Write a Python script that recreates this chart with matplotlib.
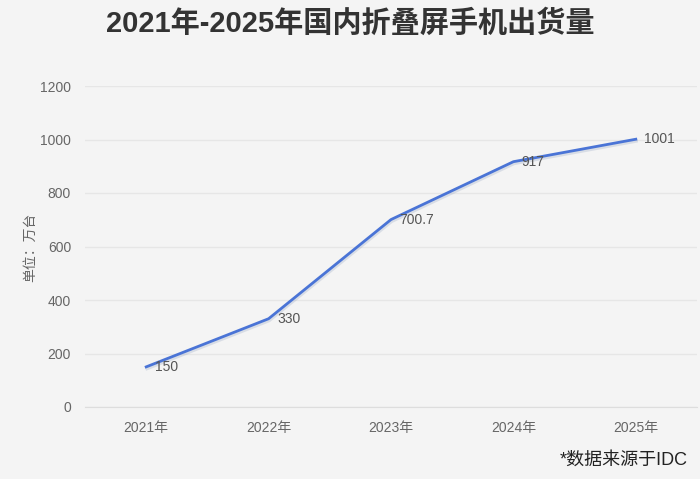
import matplotlib.pyplot as plt
import matplotlib.patheffects as pe

years = ['2021年', '2022年', '2023年', '2024年', '2025年']
shipments = [150, 330, 700.7, 917, 1001]
value_labels = ['150', '330', '700.7', '917', '1001']
yticks = [0, 200, 400, 600, 800, 1000, 1200]

plt.rcParams['font.family'] = ['Liberation Sans', 'Noto Sans CJK SC', 'DejaVu Sans']

bg = '#f4f4f4'
fig = plt.figure(figsize=(7, 4.79), dpi=100, facecolor=bg)
ax = fig.add_axes([85 / 700, 1 - 407 / 479, 612 / 700, 321 / 479])
ax.set_facecolor(bg)

x = list(range(len(years)))
ax.plot(x, shipments, color='#4a74d6', linewidth=2,
        path_effects=[pe.SimpleLineShadow(offset=(0.5, -1.5), shadow_color='#8899bb', alpha=0.25),
                      pe.Normal()])
for xi, yi, lab in zip(x, shipments, value_labels):
    ax.annotate(lab, (xi, yi), xytext=(6, 0), textcoords='offset points',
                ha='left', va='center', fontsize=10, color='#555555')

ax.set_xlim(-0.5, len(years) - 0.5)
ax.set_ylim(0, 1200)
ax.set_xticks(x)
ax.set_xticklabels(years)
ax.set_yticks(yticks)
ax.tick_params(axis='both', length=0, labelsize=10, labelcolor='#666666')
ax.tick_params(axis='x', pad=10)
ax.tick_params(axis='y', pad=10)
ax.grid(axis='y', color='#e6e6e6', linewidth=1)
ax.set_axisbelow(True)
for s in ['top', 'right', 'left']:
    ax.spines[s].set_visible(False)
ax.spines['bottom'].set_color('#dddddd')

fig.text(30 / 700, 1 - 247 / 479, '单位：万台', rotation=90, ha='center', va='center',
         fontsize=10, color='#666666')
fig.text(350 / 700, 1 - 24 / 479, '2021年-2025年国内折叠屏手机出货量', ha='center', va='center',
         fontsize=21, fontweight='bold', color='#333333')
fig.text(688 / 700, 1 - 460 / 479, '*数据来源于IDC', ha='right', va='center',
         fontsize=13, color='#222222')

fig.savefig('out.png', dpi=100, facecolor=bg)
